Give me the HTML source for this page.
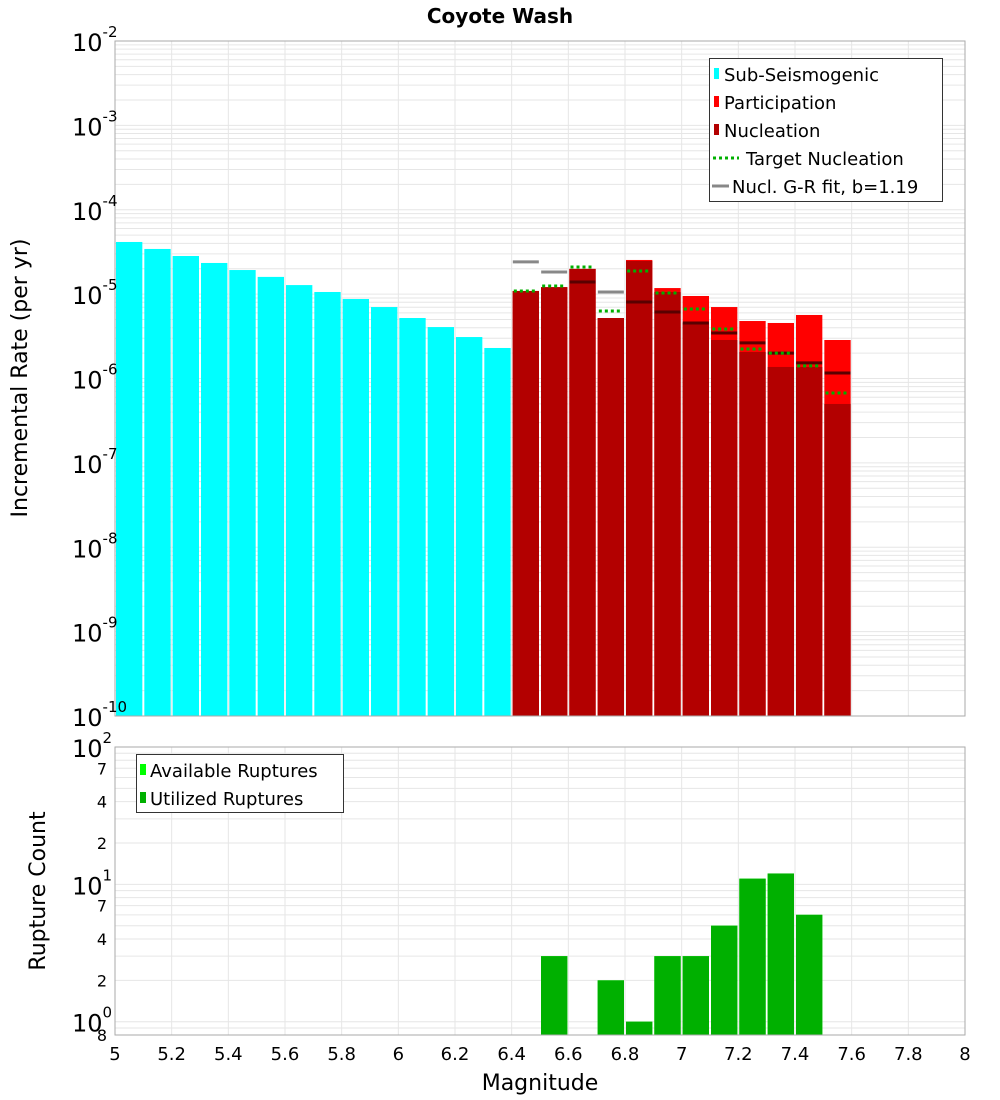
<!DOCTYPE html>
<html><head><meta charset="utf-8"><style>
html,body{margin:0;padding:0;background:#fff;}
svg{display:block;font-family:"DejaVu Sans","Liberation Sans",sans-serif;}
</style></head><body>
<svg id="chart" width="1000" height="1100" viewBox="0 0 1000 1100" xmlns="http://www.w3.org/2000/svg">
<g id="topPanel"></g>
<g id="botPanel"></g>
<text x="500" y="23" text-anchor="middle" font-size="20" font-weight="bold">Coyote Wash</text>
<text transform="translate(27,378) rotate(-90)" text-anchor="middle" font-size="22">Incremental Rate (per yr)</text>
<text transform="translate(45,891) rotate(-90)" text-anchor="middle" font-size="22">Rupture Count</text>
<text x="540" y="1090" text-anchor="middle" font-size="22">Magnitude</text>
</svg>
<script>
const subMags=[5.05,5.15,5.25,5.35,5.45,5.55,5.65,5.75,5.85,5.95,6.05,6.15,6.25,6.35];
const subRates=[4.15e-5,3.43e-5,2.83e-5,2.34e-5,1.93e-5,1.60e-5,1.28e-5,1.06e-5,8.75e-6,7.03e-6,5.21e-6,4.07e-6,3.10e-6,2.30e-6];
const faultMags=[6.45,6.55,6.65,6.75,6.85,6.95,7.05,7.15,7.25,7.35,7.45,7.55];
const partRates=[1.09e-5,1.21e-5,1.99e-5,5.21e-6,2.54e-5,1.18e-5,9.5e-6,7.03e-6,4.80e-6,4.55e-6,5.66e-6,2.86e-6];
const nuclRates=[1.09e-5,1.21e-5,1.99e-5,5.21e-6,2.47e-5,1.06e-5,4.60e-6,2.86e-6,2.06e-6,1.37e-6,1.37e-6,4.99e-7];
const targetRates=[1.09e-5,1.25e-5,2.10e-5,6.31e-6,1.88e-5,1.03e-5,6.67e-6,3.86e-6,2.24e-6,2.00e-6,1.41e-6,6.73e-7];
const grRates=[2.41e-5,1.83e-5,1.39e-5,1.06e-5,8.07e-6,6.14e-6,4.55e-6,3.46e-6,2.64e-6,2.00e-6,1.53e-6,1.16e-6];
const countMags=[6.55,6.75,6.85,6.95,7.05,7.15,7.25,7.35,7.45];
const availCounts=[3,2,1,3,3,5,11,12,6];
const usedCounts=[3,2,1,3,3,5,11,12,6];
const xTicks=[5,5.2,5.4,5.6,5.8,6,6.2,6.4,6.6,6.8,7,7.2,7.4,7.6,7.8,8];
const xTickLabels=["5","5.2","5.4","5.6","5.8","6","6.2","6.4","6.6","6.8","7","7.2","7.4","7.6","7.8","8"];
const topExps=[-2,-3,-4,-5,-6,-7,-8,-9,-10];

const NS="http://www.w3.org/2000/svg";
const X0=115,X1=965;
const xs=m=>X0+(m-5)/3*(X1-X0);
const T0=41,T1=716;
const yt=v=>T0+(-2-Math.log10(v))/8*(T1-T0);
const B0=747,B1=1035;
const yb=v=>B0+(2-Math.log10(v))/(2-Math.log10(0.8))*(B1-B0);
function mk(p,tag,at){const e=document.createElementNS(NS,tag);for(const k in at)e.setAttribute(k,at[k]);p.appendChild(e);return e;}
const topG=document.getElementById('topPanel'),botG=document.getElementById('botPanel');

function panel(g,y0,y1,yf,decs,name){
  mk(g,'rect',{x:X0,y:y0,width:X1-X0,height:y1-y0,fill:'#fff'});
  for(let d=decs[0];d<decs[1];d++)for(let k=1;k<10;k++){const v=k*Math.pow(10,d);const y=yf(v);if(y<y0-0.5||y>y1+0.5)continue;
    const l=mk(g,'line',{x1:X0,x2:X1,y1:y,y2:y,stroke:'#e6e6e6','stroke-width':1});
    
    }
  xTicks.forEach(t=>{const l=mk(g,'line',{x1:xs(t),x2:xs(t),y1:y0,y2:y1,stroke:'#e6e6e6','stroke-width':1});
    
    });
}
panel(topG,T0,T1,yt,[-10,-2],'top');
panel(botG,B0,B1,yb,[-1,2],'bottom');

const bw=(xs(5.1)-xs(5))-2;
subMags.forEach((m,i)=>{const y=yt(subRates[i]);const r=mk(topG,'rect',{x:xs(m)-bw/2,y:y,width:bw,height:T1-y,fill:'#00ffff'});
  
  });
faultMags.forEach((m,i)=>{let y=yt(partRates[i]);const r=mk(topG,'rect',{x:xs(m)-bw/2,y:y,width:bw,height:T1-y,fill:'#ff0000'});
  
  
  y=yt(nuclRates[i]);const n=mk(topG,'rect',{x:xs(m)-bw/2,y:y,width:bw,height:T1-y,fill:'#b30000'});
  
  });
faultMags.forEach((m,i)=>{const y=yt(grRates[i]);const inside=grRates[i]<=partRates[i];
  const l=mk(topG,'line',{x1:xs(m)-13,x2:xs(m)+13,y1:y,y2:y,stroke:inside?'#5a0000':'#888888','stroke-width':3});
  
  
  const yy=yt(targetRates[i]);const t=mk(topG,'line',{x1:xs(m)-12,x2:xs(m)+12,y1:yy,y2:yy,stroke:'#00b000','stroke-width':3,'stroke-dasharray':'3,3'});
  
  });
countMags.forEach((m,i)=>{let y=yb(availCounts[i]);const a=mk(botG,'rect',{x:xs(m)-bw/2,y:y,width:bw,height:B1-y,fill:'#00ff00'});
  
  
  y=yb(usedCounts[i]);const u=mk(botG,'rect',{x:xs(m)-bw/2,y:y,width:bw,height:B1-y,fill:'#00b000'});
  
  });

mk(topG,'rect',{x:X0,y:T0,width:X1-X0,height:T1-T0,fill:'none',stroke:'#aaa'});
mk(botG,'rect',{x:X0,y:B0,width:X1-X0,height:B1-B0,fill:'none',stroke:'#aaa'});

topExps.forEach(e=>{const y=yt(Math.pow(10,e));const t=mk(topG,'text',{x:72,y:y+10,'font-size':24});
  
  
  t.textContent='10';const s=mk(t,'tspan',{dy:-14,'font-size':15});s.textContent=String(e);});
[[2,'10','2'],[1,'10','1'],[0,'10','0']].forEach(([e,b,s])=>{const y=yb(Math.pow(10,e));const t=mk(botG,'text',{x:72,y:y+10,'font-size':24});
  
  
  t.textContent=b;const sp=mk(t,'tspan',{dy:-14,'font-size':15});sp.textContent=s;});
[[70,'7'],[40,'4'],[20,'2'],[7,'7'],[4,'4'],[2,'2'],[0.8,'8']].forEach(([v,s])=>{const t=mk(botG,'text',{x:107,y:yb(v)+6,'font-size':16,'text-anchor':'end'});
  
  
  t.textContent=s;});
xTicks.forEach((v,i)=>{const t=mk(botG,'text',{x:xs(v),y:1060,'font-size':18,'text-anchor':'middle'});
  
  
  t.textContent=xTickLabels[i];});

const lg=mk(topG,'g',{});


mk(lg,'rect',{x:709.5,y:58.5,width:233,height:143,fill:'#fff',stroke:'#333'});
[['#00ffff','Sub-Seismogenic','box'],['#ff0000','Participation','box'],['#b30000','Nucleation','box'],['#00b000','Target Nucleation','dot'],['#888888','Nucl. G-R fit, b=1.19','line']].forEach(([c,l,k],i)=>{
  const y=74+i*28;
  if(k==='box')mk(lg,'rect',{x:714,y:y-6,width:5,height:11,fill:c});
  else if(k==='dot')mk(lg,'line',{x1:713,x2:739,y1:y,y2:y,stroke:c,'stroke-width':3,'stroke-dasharray':'3,3'});
  else mk(lg,'line',{x1:712,x2:729,y1:y,y2:y,stroke:c,'stroke-width':3});
  const t=mk(lg,'text',{x:k==='box'?724:(k==='dot'?746:732),y:y+7,'font-size':18});
  
  
  t.textContent=l;});
const lb=mk(botG,'g',{});


mk(lb,'rect',{x:136.5,y:754.5,width:207,height:58,fill:'#fff',stroke:'#333'});
[['#00ff00','Available Ruptures'],['#00b000','Utilized Ruptures']].forEach(([c,l],i)=>{const y=770+i*28;
  mk(lb,'rect',{x:140,y:y-6,width:6,height:11,fill:c});
  const t=mk(lb,'text',{x:150,y:y+7,'font-size':18});
  
  
  t.textContent=l;});
</script>
</body></html>
